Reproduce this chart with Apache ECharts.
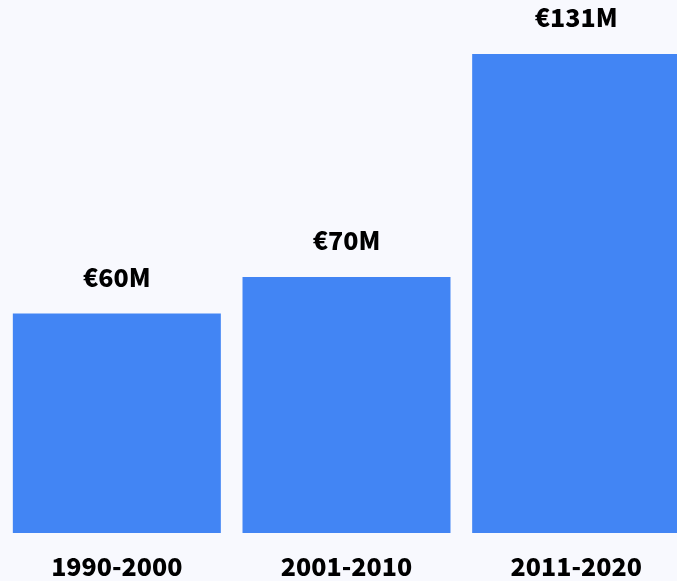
<!DOCTYPE html>
<html>
<head>
<meta charset="utf-8">
<script src="https://cdn.jsdelivr.net/npm/echarts@6/dist/echarts.min.js"></script>
<style>
html, body { margin: 0; padding: 0; background: #f8f9fe; }
#chart { width: 677px; height: 581px; }
</style>
</head>
<body>
<div id="chart"></div>
<script>
var periods = ['1990-2000', '2001-2010', '2011-2020'];
var amounts = [60, 70, 131];

var myChart = echarts.init(document.getElementById('chart'));
var option = {
    backgroundColor: '#f8f9fe',
    grid: {
        left: 2,
        width: 689,
        top: 54,
        bottom: 48,
        outerBoundsMode: 'none',
        containLabel: false
    },
    xAxis: {
        type: 'category',
        data: periods,
        axisLine: { show: false },
        axisTick: { show: false },
        axisLabel: {
            margin: 21,
            color: '#000',
            fontSize: 25,
            fontWeight: 900,
            fontFamily: 'Noto Sans CJK SC'
        }
    },
    yAxis: {
        type: 'value',
        min: 0,
        max: 131,
        show: false,
        splitLine: { show: false }
    },
    series: [{
        type: 'bar',
        data: amounts,
        barWidth: 208,
        itemStyle: { color: '#4285f4' },
        label: {
            show: true,
            position: 'top',
            distance: 24,
            color: '#000',
            fontSize: 25,
            fontWeight: 900,
            fontFamily: 'Noto Sans CJK SC',
            formatter: function (p) { return '€' + p.value + 'M'; }
        }
    }]
};
myChart.setOption(option);
</script>
</body>
</html>
